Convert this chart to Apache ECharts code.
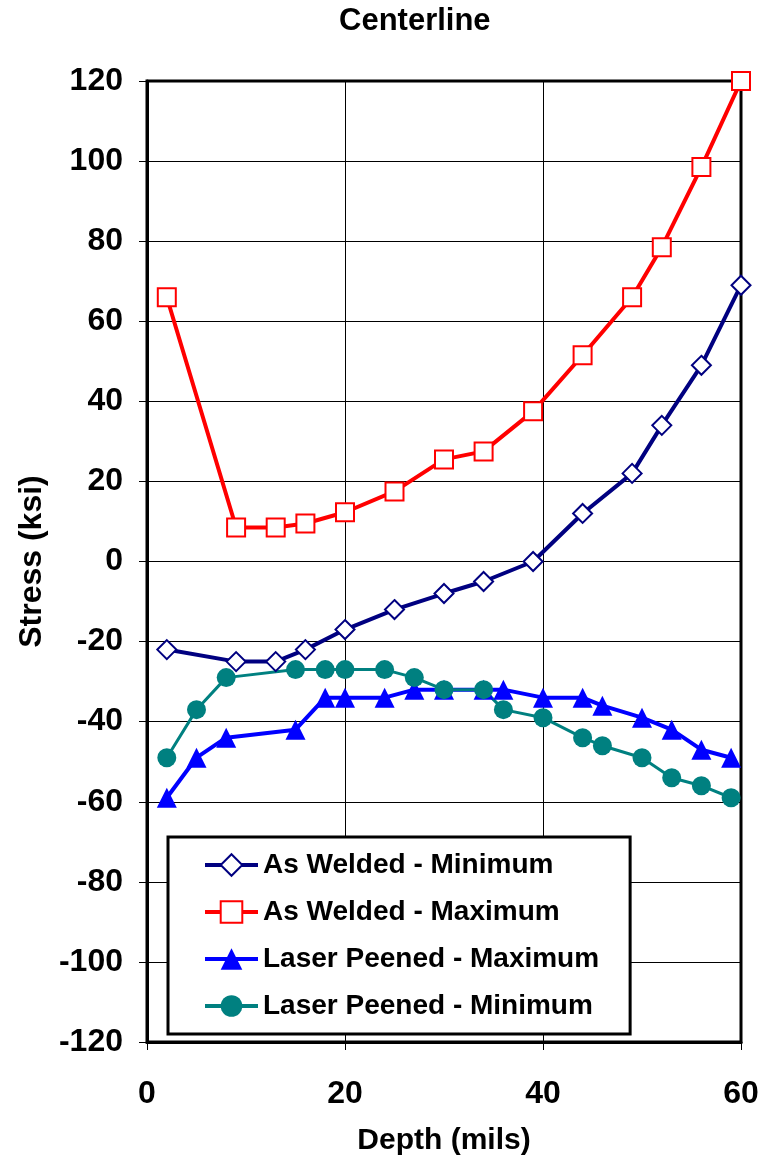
<!DOCTYPE html>
<html>
<head>
<meta charset="utf-8">
<script src="https://cdn.jsdelivr.net/npm/echarts@6/dist/echarts.min.js"></script>
<style>html,body{margin:0;padding:0;background:#fff}#c{width:768px;height:1155px}</style>
</head>
<body>
<div id="c"></div>
<script>
const seriesNames = ['As Welded - Minimum', 'As Welded - Maximum', 'Laser Peened - Maximum', 'Laser Peened - Minimum'];
const awDepth = [2, 9, 13, 16, 20, 25, 30, 34, 39, 44, 49, 52, 56, 60];
const awMin = [-22, -25, -25, -22, -17, -12, -8, -5, 0, 12, 22, 34, 49, 69];
const awMax = [66, 8.5, 8.5, 9.5, 12.3, 17.5, 25.5, 27.5, 37.5, 51.5, 66, 78.5, 98.5, 120];
const lpMaxDepth = [2, 5, 8, 15, 18, 20, 24, 27, 30, 34, 36, 40, 44, 46, 50, 53, 56, 59];
const lpMax = [-59, -49, -44, -42, -34, -34, -34, -32, -32, -32, -32, -34, -34, -36, -39, -42, -47, -49];
const lpMinDepth = [2, 5, 8, 15, 18, 20, 24, 27, 30, 34, 36, 40, 44, 46, 50, 53, 56, 59];
const lpMin = [-49, -37, -29, -27, -27, -27, -27, -29, -32, -32, -37, -39, -44, -46, -49, -54, -56, -59];
const xTicks = [0, 20, 40, 60];
const yTicks = [-120, -100, -80, -60, -40, -20, 0, 20, 40, 60, 80, 100, 120];

const pairs = (xs, ys) => xs.map((x, i) => [x, ys[i]]);
const FONT = '"Liberation Sans", Arial, sans-serif';

const chart = echarts.init(document.getElementById('c'), null, {renderer: 'canvas'});
chart.setOption({
  animation: false,
  backgroundColor: '#fff',
  title: {
    text: 'Centerline', left: 334, top: 1,
    textStyle: {fontFamily: FONT, fontWeight: 'bold', fontSize: 31, color: '#000'}
  },
  grid: {left: 147, right: 27, top: 81, bottom: 113, show: true, borderColor: '#000', borderWidth: 3,
    containLabel: false, outerBoundsMode: 'none'},
  legend: {
    orient: 'vertical', left: 168, top: 837,
    padding: [14, 31, 14, 35], itemGap: 19,
    itemWidth: 53, itemHeight: 27,
    backgroundColor: '#fff', borderColor: '#000', borderWidth: 3, borderRadius: 0,
    lineStyle: {width: 4},
    textStyle: {fontFamily: FONT, fontWeight: 'bold', fontSize: 28, color: '#000'},
    data: seriesNames
  },
  xAxis: {
    type: 'value', min: 0, max: 60, interval: 20,
    name: 'Depth (mils)', nameLocation: 'middle', nameGap: 84,
    nameTextStyle: {fontFamily: FONT, fontWeight: 'bold', fontSize: 30, color: '#000'},
    axisLine: {show: true, onZero: false, lineStyle: {color: '#000', width: 3}},
    axisTick: {show: true, length: 8, inside: false, lineStyle: {color: '#000', width: 1}},
    axisLabel: {fontFamily: FONT, fontWeight: 'bold', fontSize: 32, color: '#000', margin: 36,
      formatter: v => xTicks.includes(v) ? String(v) : ''},
    splitLine: {show: true, lineStyle: {color: '#000', width: 1}}
  },
  yAxis: {
    type: 'value', min: -120, max: 120, interval: 20,
    name: 'Stress (ksi)', nameLocation: 'middle', nameGap: 97, nameRotate: 90,
    nameTextStyle: {fontFamily: FONT, fontWeight: 'bold', fontSize: 32, color: '#000'},
    axisLine: {show: true, onZero: false, lineStyle: {color: '#000', width: 3}},
    axisTick: {show: true, length: 8, inside: false, lineStyle: {color: '#000', width: 1}},
    axisLabel: {fontFamily: FONT, fontWeight: 'bold', fontSize: 32, color: '#000', margin: 24,
      formatter: v => yTicks.includes(v) ? String(v) : ''},
    splitLine: {show: true, lineStyle: {color: '#000', width: 1}}
  },
  series: [
    {name: seriesNames[0], type: 'line', data: pairs(awDepth, awMin),
      symbol: 'diamond', symbolSize: 19, showAllSymbol: true,
      lineStyle: {color: '#000080', width: 4}, itemStyle: {color: '#fff', borderColor: '#000080', borderWidth: 2}},
    {name: seriesNames[1], type: 'line', data: pairs(awDepth, awMax),
      symbol: 'rect', symbolSize: 18, showAllSymbol: true,
      lineStyle: {color: '#ff0000', width: 4}, itemStyle: {color: '#fff', borderColor: '#ff0000', borderWidth: 2}},
    {name: seriesNames[2], type: 'line', data: pairs(lpMaxDepth, lpMax),
      symbol: 'triangle', symbolSize: 20, showAllSymbol: true,
      lineStyle: {color: '#0000ff', width: 4}, itemStyle: {color: '#0000ff', borderColor: '#0000ff', borderWidth: 0}},
    {name: seriesNames[3], type: 'line', data: pairs(lpMinDepth, lpMin),
      symbol: 'circle', symbolSize: 19, showAllSymbol: true,
      lineStyle: {color: '#008080', width: 3}, itemStyle: {color: '#008080', borderColor: '#008080', borderWidth: 0}}
  ]
});
</script>
</body>
</html>
